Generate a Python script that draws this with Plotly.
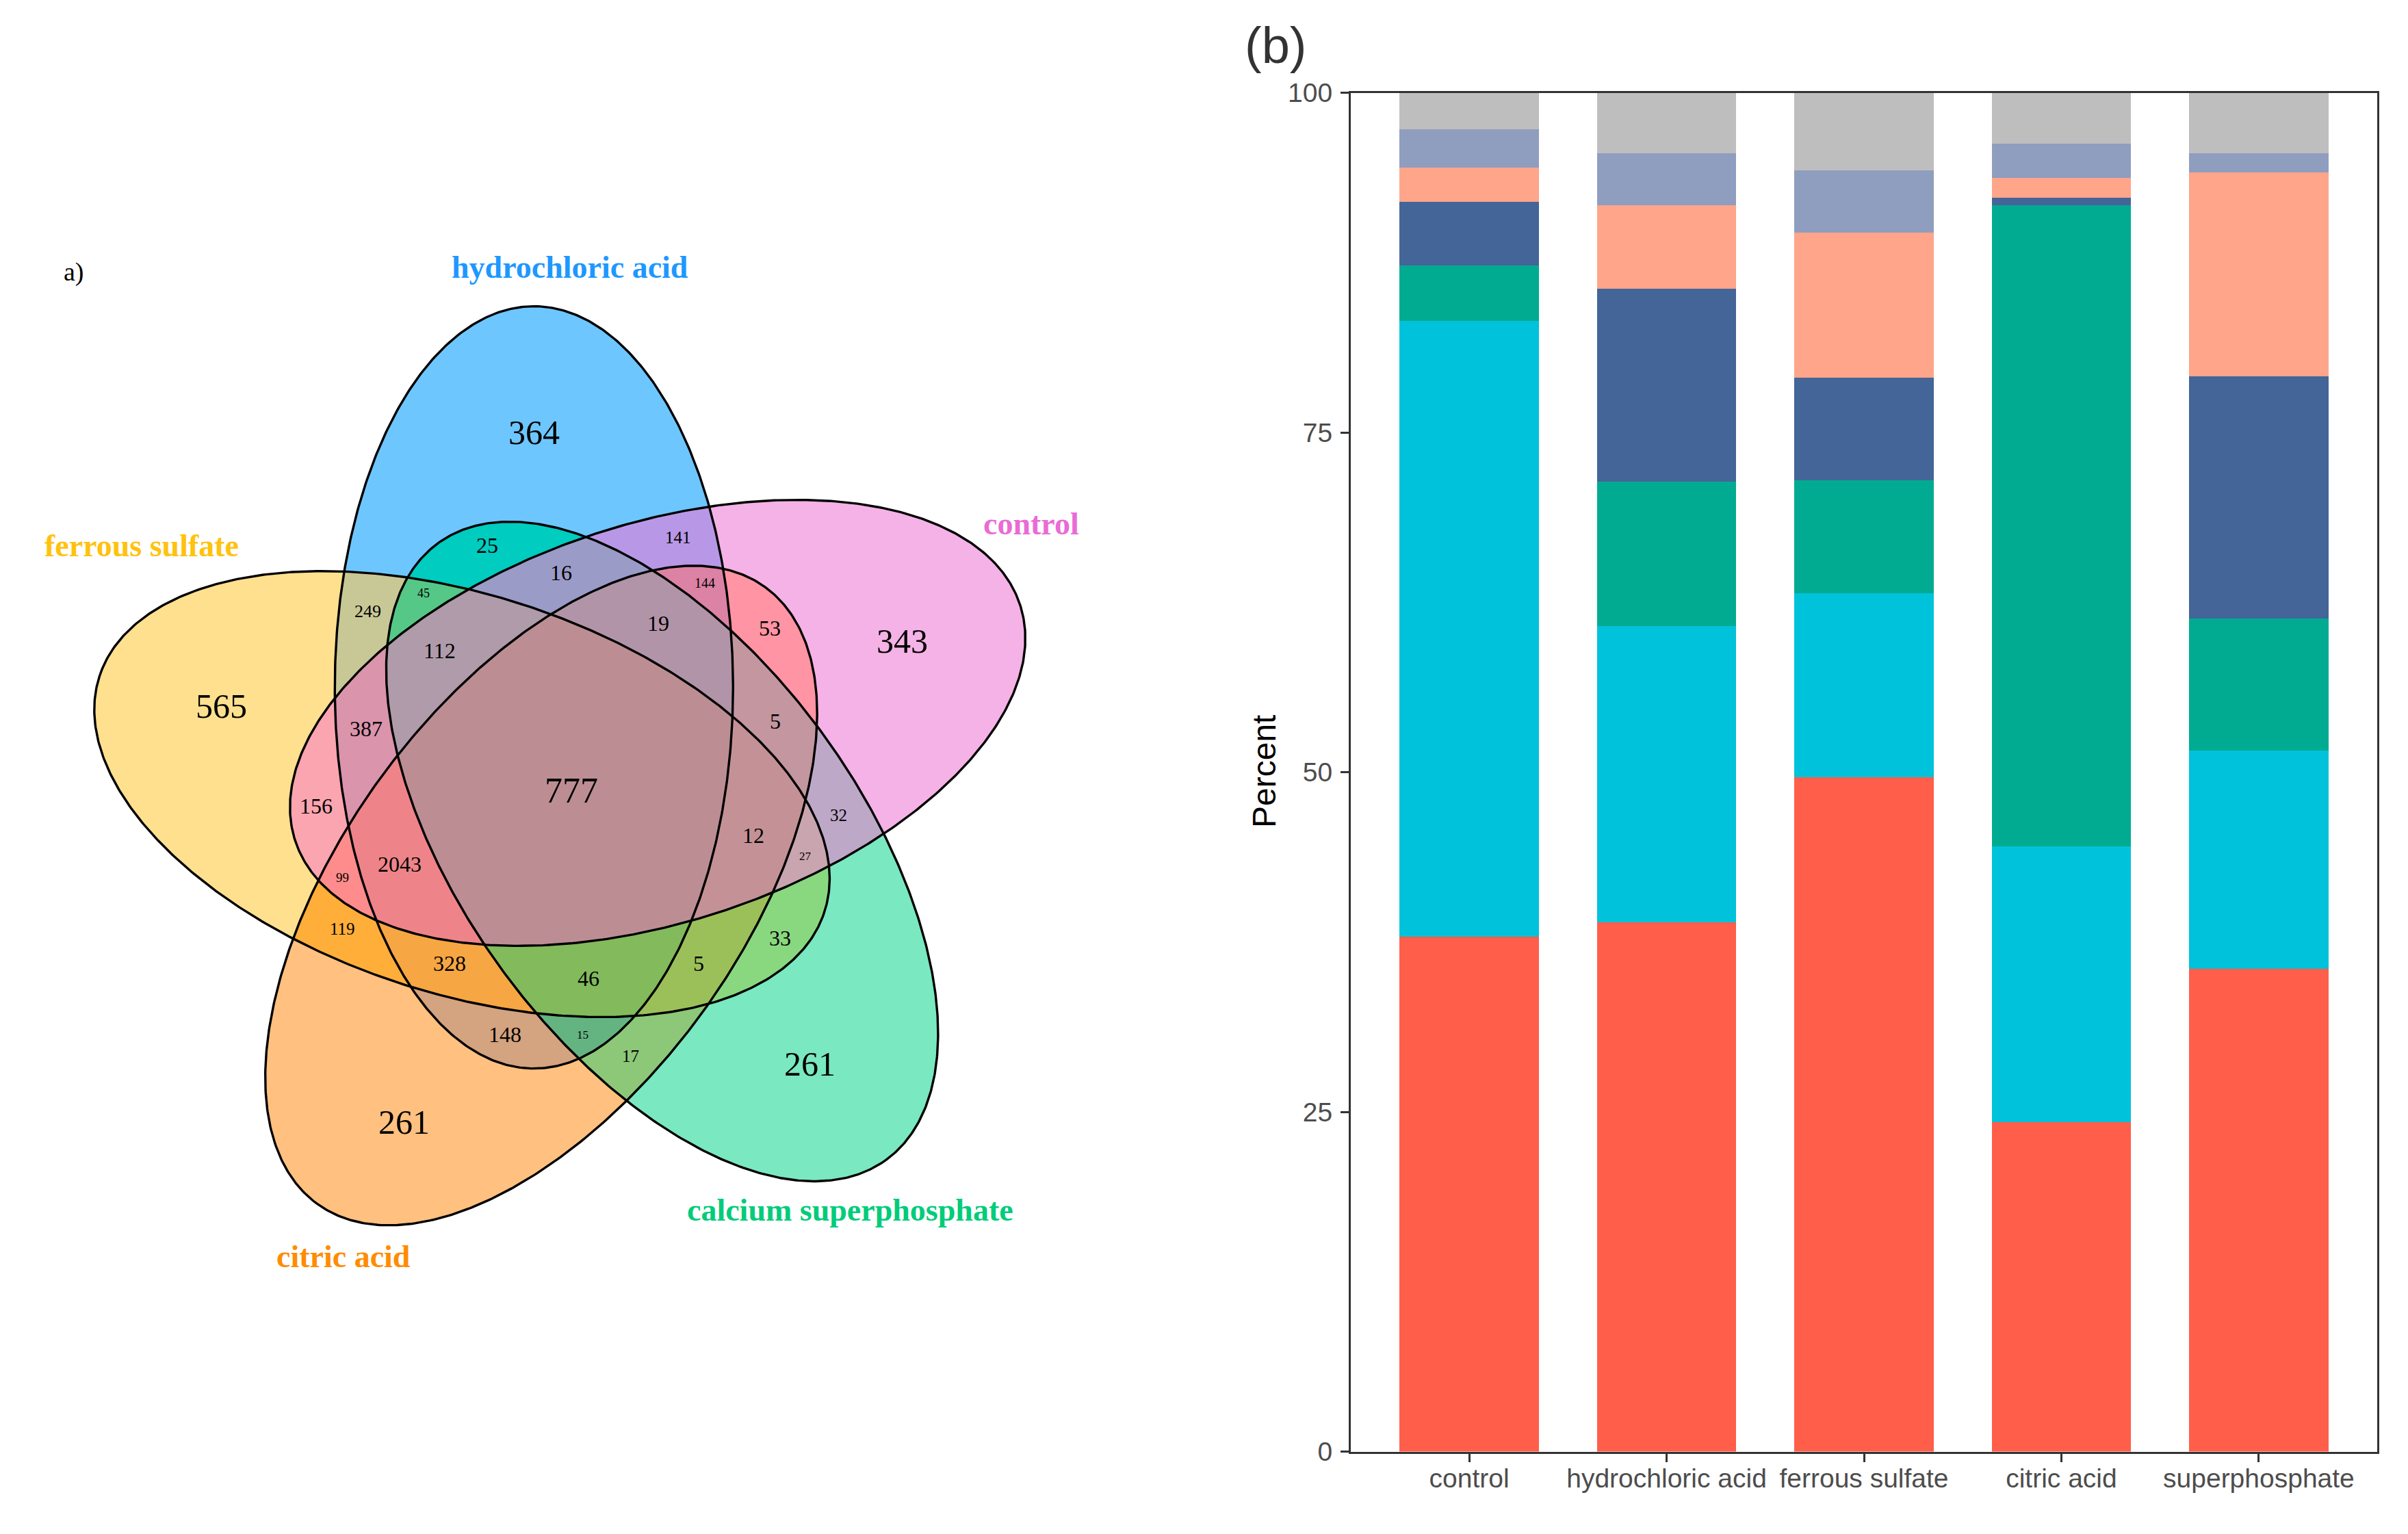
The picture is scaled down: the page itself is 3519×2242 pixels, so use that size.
import numpy as np
import plotly.graph_objects as go

# ---------------- data: Venn (panel a) ----------------
set_names = ["hydrochloric acid", "control", "calcium superphosphate", "citric acid", "ferrous sulfate"]
region_counts = [364, 343, 565, 261, 261, 777, 25, 141, 16, 45, 144, 249, 19, 53, 112,
                 387, 5, 156, 32, 12, 27, 2043, 99, 119, 33, 328, 5, 46, 148, 15, 17]

# ---------------- data: stacked bars (panel b) ----------------
categories = ["control", "hydrochloric acid", "ferrous sulfate", "citric acid", "superphosphate"]
series_names = ["Group 1", "Group 2", "Group 3", "Group 4", "Group 5", "Group 6", "Others"]
s1 = [37.9, 38.95, 49.6, 24.25, 35.5]
s2 = [45.3, 21.8, 13.55, 20.3, 16.1]
s3 = [4.1, 10.65, 8.35, 47.15, 9.7]
s4 = [4.65, 14.15, 7.55, 0.55, 17.85]
s5 = [2.55, 6.15, 10.65, 1.5, 15.0]
s6 = [2.8, 3.85, 4.6, 2.5, 1.4]
s7 = [2.75, 4.45, 5.7, 3.75, 4.45]
series_values = [s1, s2, s3, s4, s5, s6, s7]
y_ticks = [0, 25, 50, 75, 100]

# ---------------- styles / layout ----------------
W, H = 3519, 2242
VW = 1700  # width (px) of the Venn panel area
bar_colors = ["#FF5E4B", "#00C2DA", "#00AB92", "#436598", "#FFA58A", "#8F9DBF", "#BEBEBE"]

# Venn geometry (pixel units of the figure)
CX, CY, R_OFF = 835.0, 1155.0, 160.0
A_MINOR, B_MAJOR = 291.0, 557.0
centre_angles = [110 - 72 * i for i in range(5)]
axis_angles = [90 - 72 * i for i in range(5)]
label_colors = {
    "hydrochloric acid": "#1E98FF",
    "control": "#E86CD6",
    "calcium superphosphate": "#00CC7A",
    "citric acid": "#FF8C00",
    "ferrous sulfate": "#FFC20E",
}
label_pos = {
    "hydrochloric acid": (833, 390),
    "control": (1507, 765),
    "calcium superphosphate": (1242, 1768),
    "citric acid": (502, 1836),
    "ferrous sulfate": (207, 797),
}
# positions (x, y in pixels) of region count labels, font sizes and region fill colours
count_pos = [(780, 632), (1318, 937), (323, 1032), (590, 1640), (1183, 1555), (835, 1155),
             (712, 797), (991, 785), (820, 837), (619, 867), (1030, 852), (537, 893),
             (962, 911), (1125, 918), (642, 951), (535, 1065), (1133, 1054), (462, 1178),
             (1225, 1191), (1101, 1221), (1177, 1251), (584, 1263), (500, 1282), (500, 1357),
             (1140, 1371), (657, 1408), (1021, 1408), (860, 1430), (738, 1512), (851, 1512),
             (921, 1543)]
count_size = [50, 50, 50, 50, 50, 52,
              32, 25, 32, 18, 20, 26,
              32, 32, 32, 32, 32, 32,
              25, 32, 17, 32, 19, 25,
              32, 32, 32, 32, 32, 17,
              25]
region_fill = ["#6EC6FF", "#F5B2E6", "#FFE08F", "#FFC080", "#7AE8C0", "#BC8E94",
               "#00CCC0", "#B898E6", "#9B9BC8", "#55C887", "#DC82A5", "#C8C896",
               "#B294A8", "#FF94A4", "#AF9BAA", "#DA94AC", "#C396A0", "#FAA5B0",
               "#BEA8C8", "#C49296", "#C8A5AF", "#EE8489", "#FF8C8C", "#FFAE3A",
               "#89D880", "#F6A642", "#9BC05A", "#82BA5C", "#D4A37F", "#64B482",
               "#8CC878"]


def ellipse_params(k):
    th = np.deg2rad(centre_angles[k])
    ph = np.deg2rad(axis_angles[k])
    return CX + R_OFF * np.cos(th), CY - R_OFF * np.sin(th), ph


def ellipse_xy(k, n=600):
    cx, cy, ph = ellipse_params(k)
    t = np.linspace(0, 2 * np.pi, n)
    dx = B_MAJOR * np.cos(t) * np.cos(ph) - A_MINOR * np.sin(t) * np.sin(ph)
    dy = B_MAJOR * np.cos(t) * np.sin(ph) + A_MINOR * np.sin(t) * np.cos(ph)
    return cx + dx, cy - dy


def membership(X, Y):
    code = np.zeros(np.broadcast(X, Y).shape, dtype=int)
    for k in range(5):
        cx, cy, ph = ellipse_params(k)
        dx = X - cx
        dy = -(Y - cy)
        u = dx * np.cos(ph) + dy * np.sin(ph)
        v = -dx * np.sin(ph) + dy * np.cos(ph)
        inside = (u / B_MAJOR) ** 2 + (v / A_MINOR) ** 2 <= 1.0
        code = code + inside.astype(int) * (1 << k)
    return code


# colour for every region code, taken from the label that sits in that region
code_colour = ["#FFFFFF"] * 32
for (px, py), col in zip(count_pos, region_fill):
    code_colour[int(membership(np.array(px, float), np.array(py, float)))] = col

CELL = 1.5
gx = np.arange(120, 1530, CELL) + CELL / 2
gy = np.arange(420, 1830, CELL) + CELL / 2
GX, GY = np.meshgrid(gx, gy)
codes = membership(GX, GY)
zgrid = np.where(codes > 0, codes + 0.5, np.nan).astype(np.float32)
cscale = []
for k in range(32):
    cscale.append([k / 32, code_colour[k]])
    cscale.append([(k + 1) / 32, code_colour[k]])

fig = go.Figure()
fig.add_trace(go.Heatmap(x=gx, y=gy, z=zgrid, colorscale=cscale, zmin=0, zmax=32, zsmooth=False,
                         showscale=False, hoverinfo="skip", xaxis="x2", yaxis="y2"))
for k in range(5):
    ex, ey = ellipse_xy(k)
    fig.add_trace(go.Scatter(x=ex, y=ey, mode="lines", line=dict(color="black", width=3.4),
                             hoverinfo="skip", showlegend=False, xaxis="x2", yaxis="y2",
                             name=set_names[k]))

annotations = []
for cnt, (px, py), fs in zip(region_counts, count_pos, count_size):
    annotations.append(dict(x=px, y=py, xref="x2", yref="y2", text=str(cnt), showarrow=False,
                            font=dict(family="Liberation Serif", size=fs, color="black"),
                            xanchor="center", yanchor="middle"))
for name in set_names:
    px, py = label_pos[name]
    annotations.append(dict(x=px, y=py, xref="x2", yref="y2", text="<b>%s</b>" % name, showarrow=False,
                            font=dict(family="Liberation Serif", size=46, color=label_colors[name]),
                            xanchor="center", yanchor="middle"))
annotations.append(dict(x=108, y=397, xref="x2", yref="y2", text="a)", showarrow=False,
                        xanchor="center", yanchor="middle",
                        font=dict(family="Liberation Serif", size=38, color="black")))

for nm, vals, col in zip(series_names, series_values, bar_colors):
    fig.add_trace(go.Bar(x=categories, y=vals, name=nm, marker=dict(color=col, line=dict(width=0)),
                         showlegend=False, xaxis="x", yaxis="y"))

annotations.append(dict(x=1847 / W, y=1 - 1128 / H, xref="paper", yref="paper", text="Percent",
                        textangle=-90, showarrow=False, xanchor="center", yanchor="middle",
                        font=dict(family="Liberation Sans", size=48, color="black")))
annotations.append(dict(x=1864 / W, y=1 - 66 / H, xref="paper", yref="paper", text="(b)",
                        showarrow=False, xanchor="center", yanchor="middle",
                        font=dict(family="Liberation Sans", size=74, color="#333333")))

axis_common = dict(showline=True, linecolor="#333333", linewidth=3, mirror=True, ticks="outside",
                   ticklen=12, tickwidth=3, tickcolor="#333333", showgrid=False, zeroline=False,
                   automargin=False,
                   tickfont=dict(family="Liberation Sans", size=39, color="#4D4D4D"))

fig.update_layout(
    width=W, height=H, margin=dict(l=0, r=0, t=0, b=0, autoexpand=False),
    paper_bgcolor="white", plot_bgcolor="rgba(0,0,0,0)",
    barmode="stack", bargap=0.295,
    xaxis=dict(domain=[1974 / W, 3474 / W], range=[-0.6, 4.6], ticklabelstandoff=-9, **axis_common),
    yaxis=dict(domain=[1 - 2121.5 / H, 1 - 135.5 / H], range=[0, 100], tickvals=y_ticks,
               ticklabelstandoff=4, **axis_common),
    xaxis2=dict(domain=[0, VW / W], range=[0, VW], visible=False, anchor="y2", automargin=False),
    yaxis2=dict(domain=[0, 1], range=[H, 0], visible=False, anchor="x2", automargin=False),
    annotations=annotations,
)

fig.write_html("out.html", config={"displayModeBar": False},
               post_script="document.body.style.margin='0px';")
